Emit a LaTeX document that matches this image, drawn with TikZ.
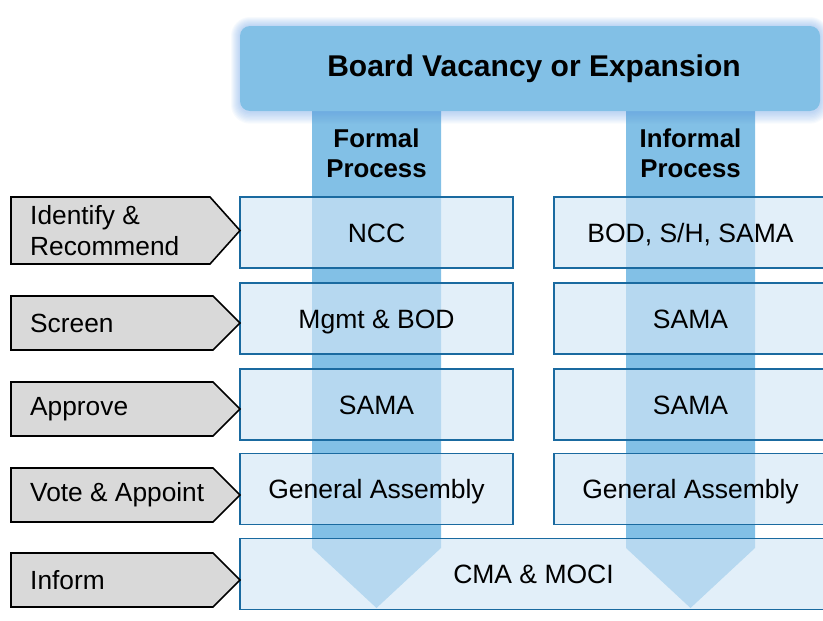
\documentclass[tikz,border=0pt]{standalone}
\usepackage{fontspec}
\setmainfont{Liberation Sans}

\definecolor{lanefill}{RGB}{130,192,230}
\definecolor{cellfill}{RGB}{210,230,246}
\definecolor{cellline}{RGB}{26,106,160}
\definecolor{glowfill}{RGB}{90,150,225}
\definecolor{tagfill}{RGB}{217,217,217}

\begin{document}
\begin{tikzpicture}[x=1pt, y=-1pt,
    stagecell/.style={draw=cellline, line width=1.6pt, fill=cellfill, fill opacity=0.65,
        text opacity=1, minimum width=273pt, minimum height=71pt, inner sep=0pt,
        text height=19pt, text depth=0pt, font=\fontsize{26.5}{31}\selectfont},
    tagshape/.style={draw=black, line width=1.6pt, fill=tagfill, line join=miter},
    tagtext/.style={anchor=west, align=left, inner sep=0pt, font=\fontsize{26.3}{31}\selectfont},
    lanehead/.style={align=center, inner sep=0pt, font=\bfseries\fontsize{25.8}{30}\selectfont}]

    \useasboundingbox (0,0) rectangle (823,621);
    \clip (0,0) rectangle (823,621);

    % the two process lanes, ending in a point
    \fill[lanefill] (312,100) -- (441,100) -- (441,548) -- (376.5,608) -- (312,548) -- cycle;
    \fill[lanefill] (626,100) -- (755,100) -- (755,548) -- (690.5,608) -- (626,548) -- cycle;

    % soft halo round the title bar
    \foreach \g in {1,...,9}
        \fill[glowfill, opacity=0.05, rounded corners=10+\g]
            (240-\g,26-\g) rectangle (820+\g,112+1.3*\g);
    \fill[lanefill, rounded corners=10] (240,26) rectangle (820,111);
    \node[font=\bfseries\fontsize{30}{35}\selectfont] (title) at (534,69) {Board Vacancy or Expansion};

    \node[lanehead] (formalhead) at (376.5,153) {Formal\\Process};
    \node[lanehead] (informalhead) at (690.5,153) {Informal\\Process};

    % formal / informal cells
    \node[stagecell] (formal1) at (376.5,232.5) {NCC};
    \node[stagecell] (informal1) at (690.5,232.5) {BOD, S/H, SAMA};
    \node[stagecell] (formal2) at (376.5,318.5) {Mgmt \& BOD};
    \node[stagecell] (informal2) at (690.5,318.5) {SAMA};
    \node[stagecell] (formal3) at (376.5,404.5) {SAMA};
    \node[stagecell] (informal3) at (690.5,404.5) {SAMA};
    \node[stagecell] (formal4) at (376.5,489) {General Assembly};
    \node[stagecell] (informal4) at (690.5,489) {General Assembly};
    \node[stagecell, minimum width=587pt] (inform) at (533.5,574) {CMA \& MOCI};

    % stage tags on the left
    \draw[tagshape] (11,197) -- (210,197) -- (240,230.5) -- (210,264) -- (11,264) -- cycle;
    \node[tagtext] (tag1) at (30,231) {Identify \&\\Recommend};
    \foreach \i/\ytop/\stage in {2/296/Screen, 3/382/Approve, 4/468/{Vote \& Appoint}, 5/553/Inform} {
        \draw[tagshape] (11,\ytop) -- (213,\ytop) -- (240,\ytop+27) -- (213,\ytop+54) -- (11,\ytop+54) -- cycle;
        \node[tagtext] (tag\i) at (30,\ytop+27) {\stage};
    }

\end{tikzpicture}
\end{document}
